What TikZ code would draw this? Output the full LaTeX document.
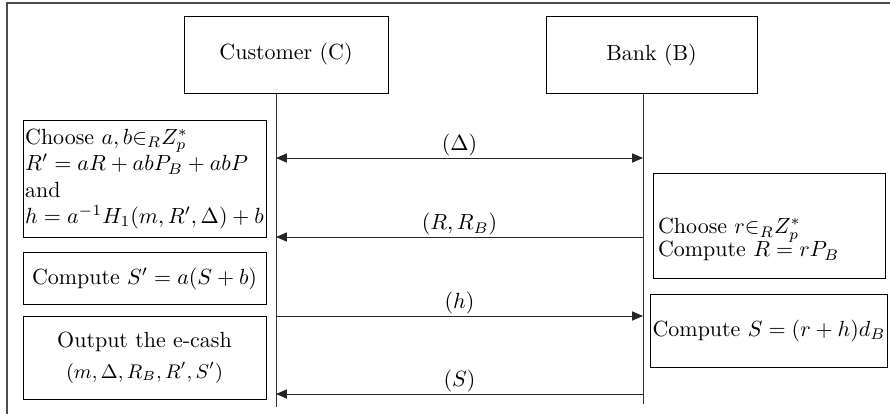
\documentclass[tikz,border=0pt]{standalone}
\usetikzlibrary{positioning, arrows.meta}

\begin{document}
\begin{tikzpicture}[
    x=0.016cm, y=-0.016cm,
    box/.style={draw, inner sep=1pt, minimum width=3.89cm},
    party/.style={draw, minimum height=1.232cm},
    bbox/.style={draw, inner sep=1pt, minimum width=3.71cm},
    life/.style={draw=black!80},
    arrow/.style={-{Triangle[length=5pt, width=4.2pt]}, draw=black!85},
    lbl/.style={inner sep=0.5pt},
    frame/.style={draw=black!70, line width=0.6pt},
]
\useasboundingbox (0,0) rectangle (890,414);

% frame
\coordinate (fa) at (7,3);
\coordinate (fb) at (890,3);
\coordinate (fc) at (7,414);
\draw[frame] (fb) -- (fa) -- (fc);

% parties
\node[party, minimum width=3.264cm] (cust) at (286,54.5) {Customer (C)};
\node[party, minimum width=3.376cm] (bank) at (651.5,55) {Bank (B)};

\coordinate (cend) at (276,407);
\coordinate (bend) at (643,404);
\draw[life] (cust.south -| cend) -- (cend);
\draw[life] (bank.south -| bend) -- (bend);

% customer side
\node[box, align=left, minimum height=1.86cm] (choose_c) at (144.5,179)
    {Choose $a,b{\in}_R Z_p^*$\\ $R'=aR+abP_B+abP$\\ and\\ $h=a^{-1}H_1(m,R',\Delta)+b$};
\node[box, minimum height=0.82cm] (sig_c) at (144.5,278.5) {Compute $S'=a(S+b)$};
\node[box, align=center, minimum height=1.33cm] (out_c) at (144.5,357.5)
    {Output the e-cash\\[2pt] {\small $(m,\Delta,R_B,R',S')$}};

% bank side
\node[bbox, align=left, inner xsep=2.3pt, text width=3.55cm, minimum height=1.68cm] (choose_b) at (769,225.5)
    {\rule{0pt}{20pt}Choose $r{\in}_R Z_p^*$\\[-1.5pt] Compute $R=rP_B$};
\node[bbox, minimum height=1.17cm] (sig_b) at (769,330.5) {Compute $S=(r+h)d_B$};

% messages
\coordinate (c1) at (276,158);  \coordinate (b1) at (643,158);
\coordinate (c2) at (276,237);  \coordinate (b2) at (643,237);
\coordinate (c3) at (276,316);  \coordinate (b3) at (643,316);
\coordinate (c4) at (276,394);  \coordinate (b4) at (643,394);

\draw[arrow, {Triangle[length=5pt, width=4.2pt]}-{Triangle[length=5pt, width=4.2pt]}] (c1) -- (b1)
    node[lbl, midway, above] (m_delta) {$(\Delta)$};
\draw[arrow] (b2) -- (c2) node[lbl, midway, above] (m_r) {$(R,R_B)$};
\draw[arrow] (c3) -- (b3) node[lbl, midway, above] (m_h) {$(h)$};
\draw[arrow] (b4) -- (c4) node[lbl, midway, above] (m_s) {$(S)$};

\end{tikzpicture}
\end{document}
